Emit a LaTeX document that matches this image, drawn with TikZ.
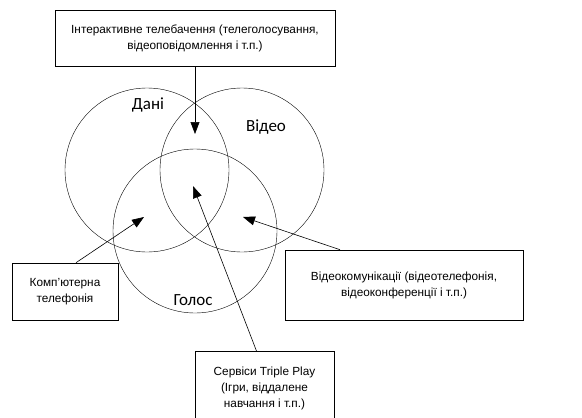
\documentclass[tikz,border=0pt]{standalone}
\usepackage{fontspec}
\setmainfont{Liberation Sans}
\newfontfamily\labelfont{Carlito}
\usetikzlibrary{arrows.meta}
\begin{document}
\begin{tikzpicture}[x=1pt,y=-1pt,
    servbox/.style={draw,semithick,align=center,font=\fontsize{11.8}{16}\selectfont,inner sep=0pt},
    ring/.style={draw,circle,minimum size=164pt,inner sep=0pt},
    ringlabel/.style={font=\labelfont\fontsize{17}{18}\selectfont},
    pointer/.style={semithick,-{Triangle[length=12pt,width=9pt]}}]
    \clip (0,0) rectangle (582,418);

    % Circles
    \node[ring] (dani) at (147,170) {};
    \node[ring] (video) at (242,170) {};
    \node[ring] (golos) at (195,231) {};

    % Circle labels
    \node[ringlabel] (ldani) at (148,105) {Дані};
    \node[ringlabel] (lvideo) at (266,127) {Відео};
    \node[ringlabel] (lgolos) at (193,300) {Голос};

    % Service boxes
    \node[servbox,minimum width=280pt,minimum height=56pt] (itv) at (195,38)
        {Інтерактивне телебачення (телеголосування,\\відеоповідомлення і т.п.)};
    \node[servbox,minimum width=106pt,minimum height=57pt] (comp) at (65,291.5)
        {Комп'ютерна\\телефонія};
    \node[servbox,minimum width=238pt,minimum height=70pt] (vcom) at (404,285)
        {Відеокомунікації (відеотелефонія,\\відеоконференції і т.п.)};
    \node[servbox,minimum width=139pt,minimum height=74pt,anchor=north] (triple) at (264.5,351)
        {Сервіси Triple Play\\(Ігри, віддалене\\навчання і т.п.)};

    % Arrow tips
    \coordinate (titv) at (195,134);
    \coordinate (tcomp) at (144,217);
    \coordinate (ttriple) at (193,186);
    \coordinate (tvcom) at (243,217);

    % Arrows
    \draw[pointer] (itv.south) -- (titv);
    \draw[pointer] ([xshift=11pt]comp.north) -- (tcomp);
    \draw[pointer] ([xshift=-8pt]triple.north) -- (ttriple);
    \draw[pointer] ([xshift=-64pt]vcom.north) -- (tvcom);
\end{tikzpicture}
\end{document}
